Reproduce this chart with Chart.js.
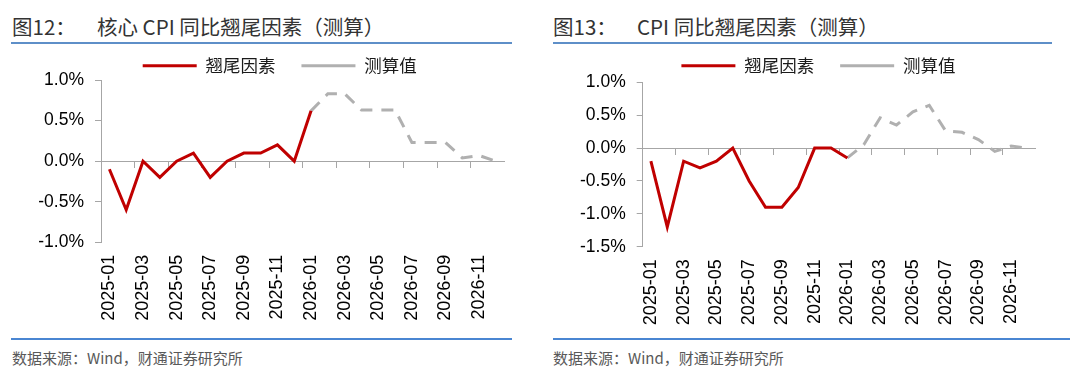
<!DOCTYPE html>
<html>
<head>
<meta charset="utf-8">
<script src="https://cdn.jsdelivr.net/npm/chart.js@4.4.1/dist/chart.umd.min.js"></script>
<style>
  html, body { margin: 0; padding: 0; background: #fff; overflow: hidden; }
  body { width: 1080px; height: 379px; position: relative; }
  .title { position: absolute; top: 15px; font-family: "Noto Sans CJK SC", "Noto Sans", sans-serif; font-size: 20.5px; font-weight: 400; line-height: 22px; color: #333333; white-space: nowrap; }
  .src { position: absolute; top: 349px; font-family: "Noto Sans CJK SC", "Noto Sans", sans-serif; font-size: 15px; line-height: 18px; color: #595959; white-space: nowrap; }
  .line-top { position: absolute; top: 42px; height: 2px; background: #5e8fc8; }
  .line-bot { position: absolute; top: 338px; height: 2px; background: #4a86d2; }
  .box { position: absolute; top: 0; height: 330px; }
</style>
</head>
<body>
<div class="title" style="left:12px;">图12：</div>
<div class="title" style="left:97px;">核心 CPI 同比翘尾因素（测算）</div>
<div class="title" style="left:553px;">图13：</div>
<div class="title" style="left:637px;">CPI 同比翘尾因素（测算）</div>
<div class="line-top" style="left:11px;width:501px;"></div>
<div class="line-top" style="left:553px;width:499px;"></div>
<div class="line-bot" style="left:11px;width:501px;"></div>
<div class="line-bot" style="left:553px;width:517px;"></div>
<div class="src" style="left:12px;">数据来源：Wind，财通证券研究所</div>
<div class="src" style="left:553px;">数据来源：Wind，财通证券研究所</div>
<div class="box" style="left:0;width:560px;"><canvas id="c1" width="560" height="330"></canvas></div>
<div class="box" style="left:540px;width:557px;"><canvas id="c2" width="557" height="330"></canvas></div>
<script>
const categories = ['2025-01','2025-02','2025-03','2025-04','2025-05','2025-06','2025-07','2025-08','2025-09','2025-10','2025-11','2025-12',
                    '2026-01','2026-02','2026-03','2026-04','2026-05','2026-06','2026-07','2026-08','2026-09','2026-10','2026-11','2026-12'];
const seriesNames = ['翘尾因素', '测算值'];
// 图12 核心CPI
const coreTail = [-0.1,-0.6,0.0,-0.2,0.0,0.1,-0.2,0.0,0.1,0.1,0.2,0.0,0.62,null,null,null,null,null,null,null,null,null,null,null];
const coreEst  = [null,null,null,null,null,null,null,null,null,null,null,null,0.62,0.83,0.83,0.63,0.63,0.63,0.23,0.23,0.23,0.04,0.07,0.0];
// 图13 CPI
const cpiTail = [-0.2,-1.2,-0.2,-0.3,-0.2,0.0,-0.5,-0.9,-0.9,-0.6,0.0,0.0,-0.15,null,null,null,null,null,null,null,null,null,null,null];
const cpiEst  = [null,null,null,null,null,null,null,null,null,null,null,null,-0.15,0.05,0.46,0.35,0.55,0.65,0.26,0.24,0.13,-0.05,0.03,0.0];
const coreTicks = { min: -1.0, max: 1.0, step: 0.5 };
const cpiTicks  = { min: -1.5, max: 1.0, step: 0.5 };

const RED = '#c00000';
const GRAY = '#b0b0b0';
const AXIS = '#a6a6a6';
const LATIN = '"Liberation Sans", Arial, sans-serif';
const CJK = '"Noto Sans CJK SC", sans-serif';

function makeChart(id, tail, est, yt, geo) {
  return new Chart(document.getElementById(id), {
    type: 'line',
    data: {
      labels: categories,
      datasets: [
        { label: seriesNames[0], data: tail, borderColor: RED, backgroundColor: RED, borderWidth: 3,
          pointRadius: 0, pointHoverRadius: 0, tension: 0, spanGaps: false, xAxisID: 'x', yAxisID: 'y' },
        { label: seriesNames[1], data: est, borderColor: GRAY, backgroundColor: GRAY, borderWidth: 3,
          borderDash: [12, 9], pointRadius: 0, pointHoverRadius: 0, tension: 0, spanGaps: false, xAxisID: 'x', yAxisID: 'y' }
      ]
    },
    options: {
      responsive: false,
      animation: false,
      events: [],
      layout: { padding: { top: geo.top, left: 0, right: geo.right, bottom: 0 } },
      plugins: {
        tooltip: { enabled: false },
        legend: {
          display: true,
          position: 'top',
          maxHeight: geo.legendH,
          labels: {
            usePointStyle: true,
            pointStyle: 'line',
            pointStyleWidth: 54,
            padding: 26,
            color: '#1a1a1a',
            font: { family: CJK, size: 17.5 }
          }
        }
      },
      scales: {
        x: {
          type: 'category',
          position: 'bottom',
          offset: true,
          grid: { display: false, drawTicks: false },
          border: { display: false },
          afterFit: s => { s.height = geo.xH; },
          ticks: {
            autoSkip: false,
            minRotation: 90,
            maxRotation: 90,
            padding: 12.5,
            color: '#000',
            font: { family: LATIN, size: 18 },
            callback: function (v, i) { return i % 2 === 0 ? this.getLabelForValue(v) : ''; }
          }
        },
        x2: {
          type: 'category',
          position: { y: 0 },
          offset: true,
          grid: {
            offset: true,
            drawOnChartArea: false,
            drawTicks: true,
            tickLength: 6,
            lineWidth: 1,
            color: ctx => (ctx.index % 2 === 0 ? AXIS : 'rgba(0,0,0,0)')
          },
          border: { display: true, color: AXIS, width: 1 },
          ticks: { display: false },
          afterFit: s => { s.height = 0; }
        },
        y: {
          type: 'linear',
          position: 'left',
          min: yt.min,
          max: yt.max,
          afterFit: s => { s.width = geo.yW; },
          grid: { drawOnChartArea: false, drawTicks: true, tickLength: 6, color: AXIS, lineWidth: 1 },
          border: { display: true, color: AXIS, width: 1 },
          ticks: {
            stepSize: yt.step,
            padding: 11,
            color: '#000',
            font: { family: LATIN, size: 17.5 },
            callback: v => v.toFixed(1) + '%'
          }
        },
        ySpacer: {
          type: 'linear',
          position: 'right',
          display: true,
          grid: { display: false, drawTicks: false },
          border: { display: false },
          ticks: { display: false },
          afterFit: s => { s.width = geo.spacer; }
        }
      }
    }
  });
}

makeChart('c1', coreTail, coreEst, coreTicks, { top: 31, right: 0.6, yW: 101, spacer: 55.1, xH: 87.7, legendH: 49 });
makeChart('c2', cpiTail, cpiEst, cpiTicks, { top: 31, right: 0.2, yW: 102.7, spacer: 61.1, xH: 83.3, legendH: 51.3 });
</script>
</body>
</html>
